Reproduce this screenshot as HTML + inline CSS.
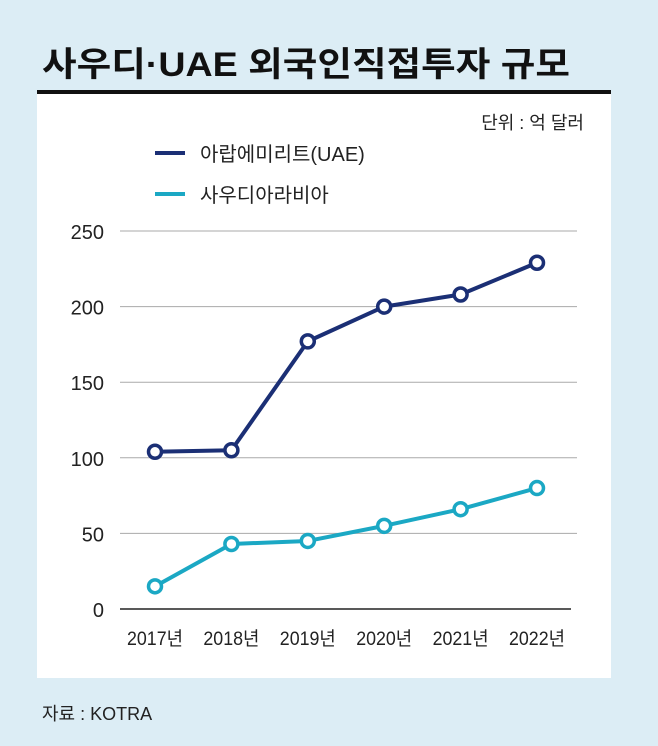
<!DOCTYPE html>
<html><head><meta charset="utf-8"><style>
body{margin:0;width:658px;height:746px;background:#dcedf5;overflow:hidden;font-family:"Liberation Sans","Noto Sans CJK KR",sans-serif;}
svg{position:absolute;left:0;top:0}
</style></head><body>
<svg width="658" height="746">
<text x="42" y="76" font-size="34" font-weight="bold" fill="#111" font-family="Liberation Sans, Noto Sans CJK KR, sans-serif" textLength="528" lengthAdjust="spacingAndGlyphs">사우디·UAE 외국인직접투자 규모</text>
<rect x="37" y="93" width="574" height="585" fill="#fff"/>
<rect x="37" y="90" width="574" height="4" fill="#111"/>
<text x="584" y="129" font-size="18" text-anchor="end" fill="#222">단위 : 억 달러</text>
<g>
<line x1="155" y1="153" x2="185" y2="153" stroke="#1b2f75" stroke-width="4"/>
<text x="200" y="161" font-size="20" fill="#222">아랍에미리트(UAE)</text>
<line x1="155" y1="194" x2="185" y2="194" stroke="#1ba8c4" stroke-width="4"/>
<text x="200" y="202" font-size="20" fill="#222">사우디아라비아</text>
</g>
<g id="axes"></g>
<g id="marks"></g>
<text x="42" y="720" font-size="18" fill="#222">자료 : KOTRA</text>
</svg>
<script>
const categories=["2017년","2018년","2019년","2020년","2021년","2022년"];
const uaeValues=[104,105,177,200,208,229];
const saudiValues=[15,43,45,55,66,80];
const yTicks=[0,50,100,150,200,250];
const NS="http://www.w3.org/2000/svg";
const xScale=i=>155+i*76.4;
const yScale=v=>609-v*1.512;
function mk(tag,attrs,parent){const e=document.createElementNS(NS,tag);for(const k in attrs)e.setAttribute(k,attrs[k]);parent.appendChild(e);return e;}
const axes=document.getElementById('axes'),marks=document.getElementById('marks');
yTicks.forEach(t=>{
  const y=yScale(t);
  const l=mk('line',{x1:120,x2:t===0?571:577,y1:y,y2:y,stroke:t===0?'#222':'#aaa','stroke-width':t===0?1.6:1},axes);
  
  
  const tx=mk('text',{x:104,y:y+8,'font-size':20,'text-anchor':'end',fill:'#222'},axes);
  tx.textContent=t;
  
  
});
categories.forEach((c,i)=>{
  const tx=mk('text',{x:xScale(i),y:645,'font-size':19,'text-anchor':'middle',fill:'#222',textLength:56,lengthAdjust:'spacingAndGlyphs'},axes);
  tx.textContent=c;
  
  
});
function series(vals,color,name){
  const p=mk('polyline',{points:vals.map((v,i)=>xScale(i)+','+yScale(v)).join(' '),fill:'none',stroke:color,'stroke-width':4,'stroke-linejoin':'round'},marks);
  
  
  vals.forEach((v,i)=>{
    const c=mk('circle',{cx:xScale(i),cy:yScale(v),r:6.5,fill:'#fff',stroke:color,'stroke-width':3.5},marks);
    
    
  });
}
series(saudiValues,'#1ba8c4','saudi');
series(uaeValues,'#1b2f75','uae');
</script>
</body></html>
